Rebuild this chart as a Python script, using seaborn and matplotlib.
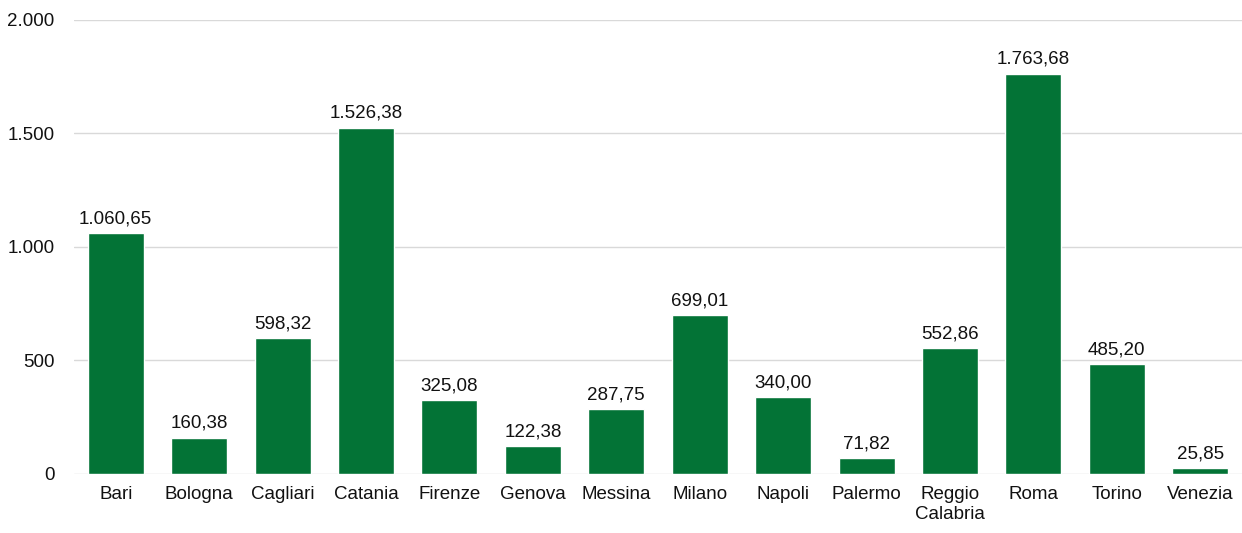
import matplotlib
matplotlib.use("Agg")
import matplotlib.pyplot as plt
import seaborn as sns
import pandas as pd

# Values
cities = ["Bari", "Bologna", "Cagliari", "Catania", "Firenze", "Genova", "Messina",
          "Milano", "Napoli", "Palermo", "Reggio\nCalabria", "Roma", "Torino", "Venezia"]
values = [1060.65, 160.38, 598.32, 1526.38, 325.08, 122.38, 287.75,
          699.01, 340.00, 71.82, 552.86, 1763.68, 485.20, 25.85]
yticks = [0, 500, 1000, 1500, 2000]

df = pd.DataFrame({"city": cities, "value": values})


def it_fmt(v, decimals=2):
    s = f"{v:,.{decimals}f}"
    return s.replace(",", "X").replace(".", ",").replace("X", ".")


sns.set_style("white")
plt.rcParams["font.family"] = ["Liberation Sans", "DejaVu Sans"]

fig = plt.figure(figsize=(12.42, 5.33), dpi=100)
ax = fig.add_axes([0.0596, 0.1107, 0.9404, 0.8518])

sns.barplot(data=df, x="city", y="value", color="#037336", width=0.67,
            saturation=1, ax=ax, zorder=3)

for i, v in enumerate(values):
    ax.text(i, v + 25, it_fmt(v), ha="center", va="bottom", fontsize=13.5, color="#111111")

ax.set_ylim(0, 2000)
ax.set_xlim(-0.5, len(cities) - 0.5)
ax.set_yticks(yticks)
ax.set_yticklabels([it_fmt(t, 0) for t in yticks], fontsize=13.5)
ax.tick_params(axis="x", labelsize=13.5, length=0, pad=9, labelcolor="#111111")
ax.tick_params(axis="y", length=0, pad=14, labelcolor="#111111")
ax.yaxis.grid(True, color="#d9d9d9", linewidth=1, zorder=0)
ax.set_xlabel("")
ax.set_ylabel("")
for s in ax.spines.values():
    s.set_visible(False)

fig.savefig("out.png", dpi=100)
